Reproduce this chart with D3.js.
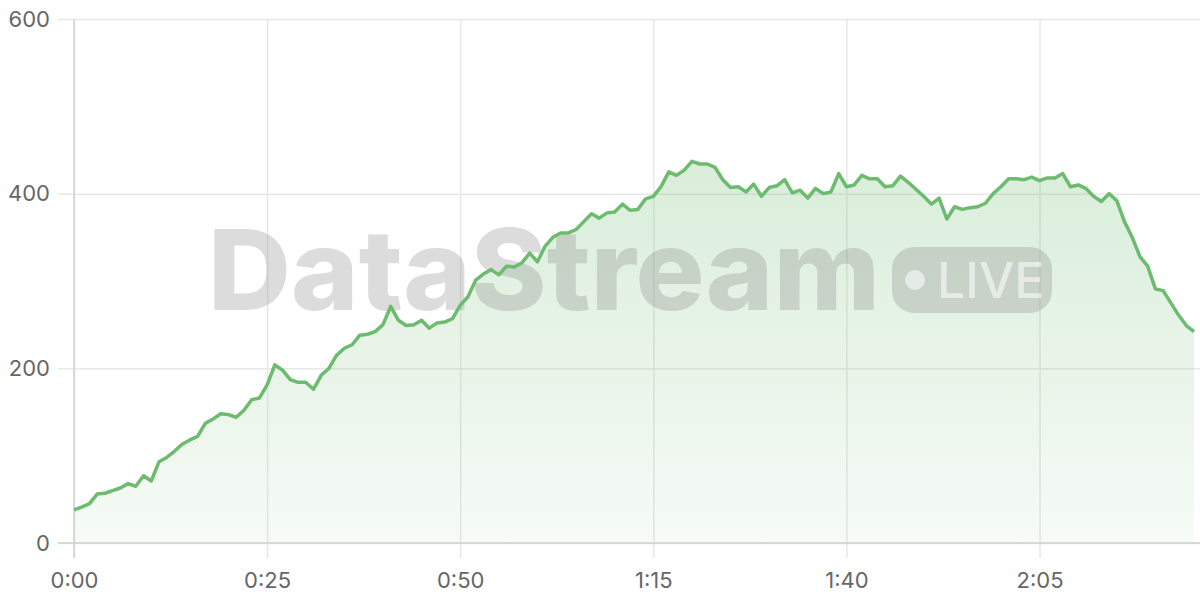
<!DOCTYPE html>
<html>
<head>
<meta charset="utf-8">
<script src="https://cdn.jsdelivr.net/npm/d3@7"></script>
<style>
html,body{margin:0;padding:0;background:#fff;}
svg{display:block;}
text{font-family:Inter,"Noto Sans",sans-serif;}
</style>
</head>
<body>
<svg id="chart" width="1200" height="600"></svg>
<script>
// minutes since start (one reading per minute)
const minutes = d3.range(0, 146);
const viewers = [
  38,41,45,56,57,60,63,68,65,77,
  71,93,98,105,113,118,122,137,142,148,
  147,144,152,164,166,181,204,198,187,184,
  184,176,192,200,215,223,227,238,239,242,
  250,271,255,249,250,255,246,252,253,257,
  272,282,301,308,313,307,317,316,321,332,
  322,340,350,355,355,359,368,377,372,378,
  379,388,381,382,394,397,408,425,421,427,
  437,434,434,430,416,407,408,402,411,397,
  407,409,416,401,404,395,406,400,402,423,
  408,410,421,417,417,408,409,420,413,405,
  397,388,395,371,385,382,384,385,389,400,
  408,417,417,416,419,415,418,418,423,408,
  410,406,397,391,400,392,368,350,328,317,
  291,289,275,261,249,242
];
const xTickValues = [0, 25, 50, 75, 100, 125];
const xTickLabels = ["0:00", "0:25", "0:50", "1:15", "1:40", "2:05"];
const yTickValues = [0, 200, 400, 600];
const watermarkTitle = "DataStream";
const watermarkBadge = "LIVE";

(function () {
const data = minutes.map((m, i) => ({m, v: viewers[i]}));

const svg = d3.select("#chart");
const mLeft = 74, mRight = 1194, mTop = 19, mBottom = 543;

const x = d3.scaleLinear().domain([0, 145]).range([mLeft, mRight]);
const y = d3.scaleLinear().domain([0, 600]).range([mBottom, mTop]);

const defs = svg.append("defs");
const grad = defs.append("linearGradient").attr("id", "areaGrad")
  .attr("x1", 0).attr("y1", 0).attr("x2", 0).attr("y2", 1);
grad.append("stop").attr("offset", "0%").attr("stop-color", "#6dbb6f").attr("stop-opacity", 0.26);
grad.append("stop").attr("offset", "100%").attr("stop-color", "#6dbb6f").attr("stop-opacity", 0.06);

// horizontal grid + y ticks
const yAxis = svg.append("g").attr("transform", `translate(${mLeft},0)`)
  .call(d3.axisLeft(y).tickValues(yTickValues).tickSize(16).tickPadding(8).tickFormat(d3.format("d")));
yAxis.select(".domain").remove();
yAxis.selectAll(".tick line").attr("stroke", "#e8e8e8").attr("stroke-width", 1.5);
yAxis.selectAll(".tick").append("line")
  .attr("x1", 0).attr("x2", 1200 - mLeft).attr("stroke", "#e8e8e8").attr("stroke-width", 1.5);
yAxis.selectAll(".tick text").attr("fill", "#666").style("font-size", "22px");

// vertical grid + x ticks
const xAxis = svg.append("g").attr("transform", `translate(0,${mBottom})`)
  .call(d3.axisBottom(x).tickValues(xTickValues).tickSize(15).tickPadding(14)
    .tickFormat((d, i) => xTickLabels[i]));
xAxis.select(".domain").remove();
xAxis.selectAll(".tick line").attr("stroke", "#e8e8e8").attr("stroke-width", 1.5);
xAxis.selectAll(".tick").append("line")
  .attr("y1", 0).attr("y2", mTop - mBottom).attr("stroke", "#e8e8e8").attr("stroke-width", 1.5);
xAxis.selectAll(".tick text").attr("fill", "#666").style("font-size", "22px");

// area
const area = d3.area().x(d => x(d.m)).y0(y(0)).y1(d => y(d.v));
svg.append("path").datum(data).attr("d", area).attr("fill", "url(#areaGrad)");

// axis lines
svg.append("line").attr("x1", mLeft).attr("x2", mLeft).attr("y1", mTop).attr("y2", mBottom + 15)
  .attr("stroke", "#d0d0d0").attr("stroke-width", 1.5);
svg.append("line").attr("x1", mLeft - 16).attr("x2", 1200).attr("y1", mBottom).attr("y2", mBottom)
  .attr("stroke", "#d0d0d0").attr("stroke-width", 1.5);

// watermark
const wm = svg.append("g").attr("pointer-events", "none");
wm.append("text").attr("x", 208).attr("y", 310)
  .attr("fill", "#808080").attr("fill-opacity", 0.28)
  .attr("textLength", 672).attr("lengthAdjust", "spacingAndGlyphs")
  .style("font-size", "112px").style("font-weight", 800)
  .text(watermarkTitle);
wm.append("rect").attr("x", 892).attr("y", 247).attr("width", 160).attr("height", 66).attr("rx", 22)
  .attr("fill", "#808080").attr("fill-opacity", 0.28);
wm.append("circle").attr("cx", 915).attr("cy", 280).attr("r", 10)
  .attr("fill", "#fff").attr("fill-opacity", 0.55);
wm.append("text").attr("x", 937).attr("y", 298)
  .attr("fill", "#fff").attr("fill-opacity", 0.55)
  .style("font-size", "50px").style("font-weight", 500)
  .text(watermarkBadge);

// line
const line = d3.line().x(d => x(d.m)).y(d => y(d.v));
svg.append("path").datum(data).attr("d", line)
  .attr("fill", "none").attr("stroke", "#6dbb6f").attr("stroke-width", 3.5)
  .attr("stroke-linejoin", "round");
})();
</script>
</body>
</html>
